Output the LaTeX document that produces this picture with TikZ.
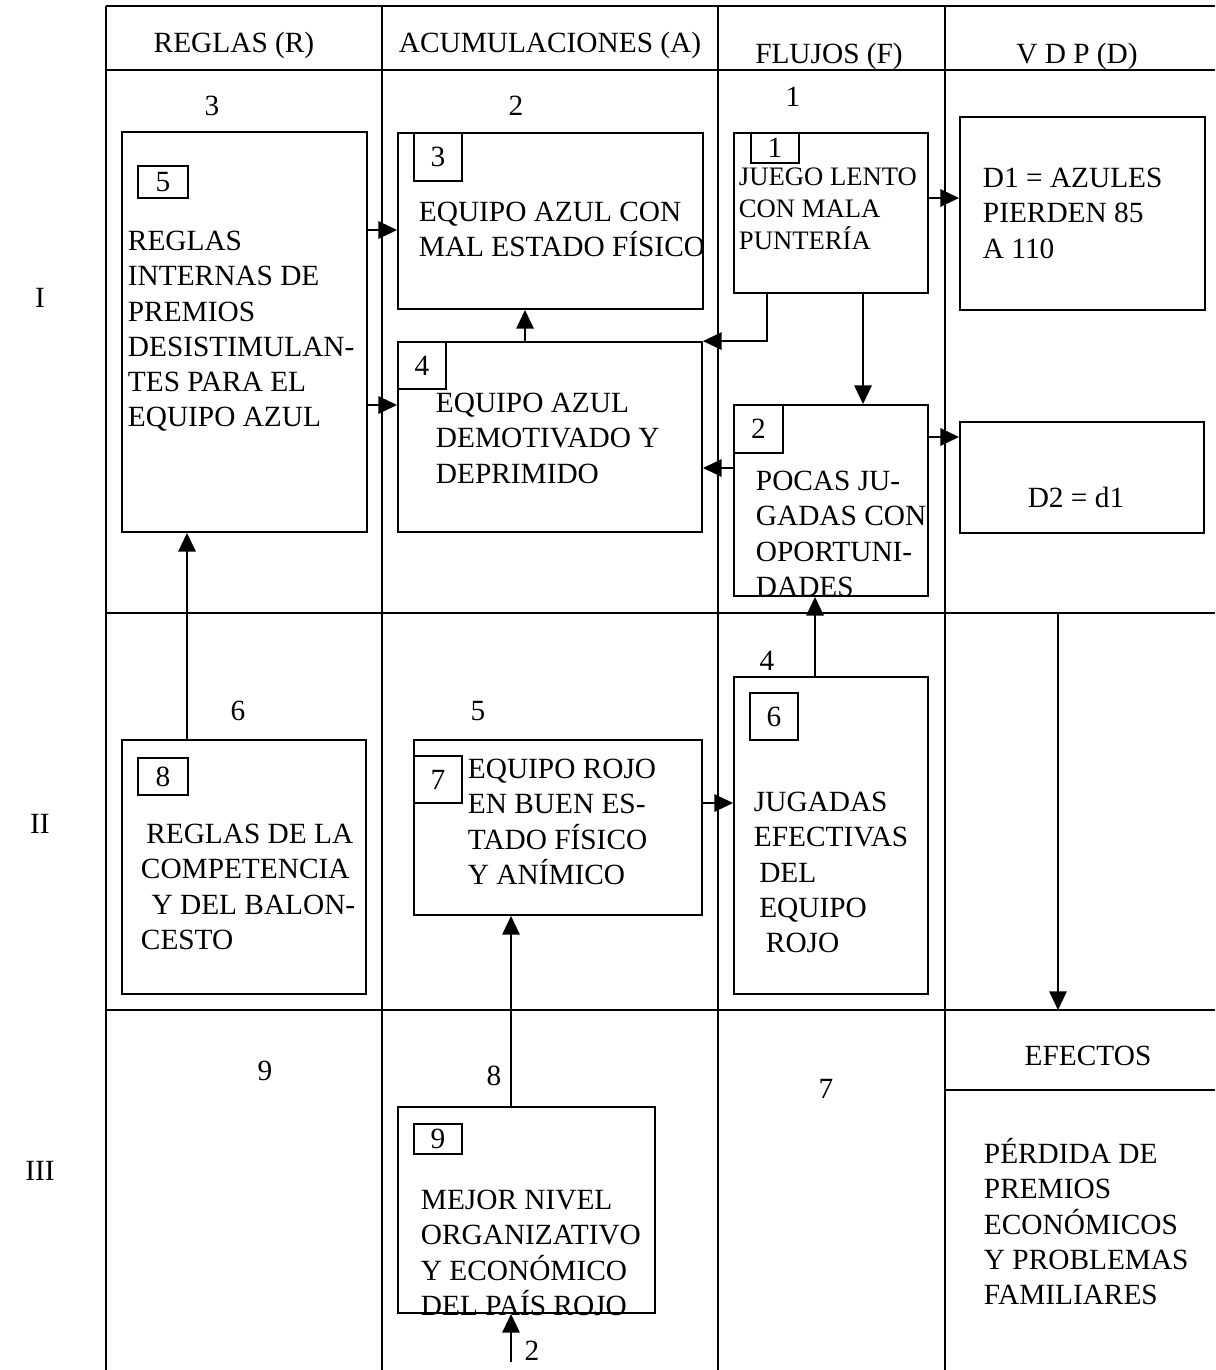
\documentclass[tikz,border=0pt]{standalone}
\usepackage{fontspec}
\setmainfont{Liberation Serif}
\usetikzlibrary{arrows.meta,fit}
\newcommand{\bxstrut}{\rule{0pt}{20pt}}
\newcommand{\numtxt}[1]{\raisebox{-0.68em}{#1}}

\begin{document}
\begin{tikzpicture}[x=0.75pt,y=-0.75pt,line width=1.4pt,
    box/.style={draw,inner sep=0pt},
    numbox/.style={draw,inner sep=0pt,font=\fontsize{22}{26}\selectfont},
    txt/.style={font=\fontsize{22}{26.4}\selectfont,align=left,anchor=north west,inner sep=0pt},
    lbl/.style={font=\fontsize{22}{26.4}\selectfont,anchor=base,inner sep=0pt},
    arr/.style={-{Triangle[length=14pt,width=13pt]}}]
    \useasboundingbox (0,0) rectangle (1215,1370);

    % grid
    \draw (106,6) -- (1215,6);
    \draw (106,70) -- (1215,70);
    \draw (106,613) -- (1215,613);
    \draw (106,1010) -- (1215,1010);
    \draw (945,1090) -- (1215,1090);
    \draw (106,6) -- (106,1370);
    \draw (382,6) -- (382,1370);
    \draw (718,6) -- (718,1370);
    \draw (945,6) -- (945,1370);

    \node[lbl] (hR) at (234,53) {REGLAS (R)};
    \node[lbl] (hA) at (550,53) {ACUMULACIONES (A)};
    \node[lbl] (hF) at (829,64) {FLUJOS (F)};
    \node[lbl] (hD) at (1077,64) {V D P (D)};

    \node[lbl] (rI) at (40,307) {I};
    \node[lbl] (rII) at (40,833) {II};
    \node[lbl] (rIII) at (40,1180) {III};

    \node[lbl] (c3) at (212,115) {3};
    \node[lbl] (c2) at (516,115) {2};
    \node[lbl] (c1) at (793,107) {1};
    \node[lbl] (c6) at (238,720) {6};
    \node[lbl] (c5) at (478,720) {5};
    \node[lbl] (c4) at (767,670) {4};
    \node[lbl] (c9) at (265,1080) {9};
    \node[lbl] (c8) at (494,1085) {8};
    \node[lbl] (c7) at (826,1098) {7};
    \node[lbl] (c2b) at (532,1360) {2};

    % boxes
    \node[box,fit={(122,132) (367,532)}] (b5) {};
    \node[box,fit={(398,133) (703,309)}] (b3) {};
    \node[box,fit={(398,342) (702,532)}] (b4) {};
    \node[box,fit={(734,133) (928,293)}] (b1) {};
    \node[box,fit={(960,117) (1205,310)}] (d1) {};
    \node[box,fit={(734,405) (928,596)}] (b2) {};
    \node[box,fit={(960,422) (1204,533)}] (d2) {};
    \node[box,fit={(122,740) (366,994)}] (b8) {};
    \node[box,fit={(414,740) (702,915)}] (b7) {};
    \node[box,fit={(734,677) (928,994)}] (b6) {};
    \node[box,fit={(398,1107) (655,1313)}] (b9) {};

    \node[numbox,fit={(138,166) (188,198)}] (n5) {\numtxt{5}};
    \node[numbox,fit={(414,133) (462,181)}] (n3) {\numtxt{3}};
    \node[numbox,fit={(398,342) (446,389)}] (n4) {\numtxt{4}};
    \node[numbox,fit={(751,133) (799,163)}] (n1) {\numtxt{1}};
    \node[numbox,fit={(734,405) (783,453)}] (n2) {\numtxt{2}};
    \node[numbox,fit={(138,758) (188,795)}] (n8) {\numtxt{8}};
    \node[numbox,fit={(414,756) (462,803)}] (n7) {\numtxt{7}};
    \node[numbox,fit={(750,693) (798,740)}] (n6) {\numtxt{6}};
    \node[numbox,fit={(414,1124) (462,1154)}] (n9) {\numtxt{9}};

    % texts
    \node[txt] (t5) at (127,223) {\bxstrut REGLAS\\INTERNAS DE\\PREMIOS\\DESISTIMULAN-\\TES PARA EL\\EQUIPO AZUL};
    \node[txt] (t3) at (418,194) {\bxstrut EQUIPO AZUL CON\\MAL ESTADO FÍSICO};
    \node[txt] (t4) at (435,385) {\bxstrut EQUIPO AZUL\\DEMOTIVADO Y\\DEPRIMIDO};
    \node[txt,font=\fontsize{20}{24}\selectfont] (t1) at (738,158) {\bxstrut JUEGO LENTO\\CON MALA\\PUNTERÍA};
    \node[txt] (td1) at (982,160) {\bxstrut D1 = AZULES\\PIERDEN 85\\A 110};
    \node[txt] (t2) at (755,463) {\bxstrut POCAS JU-\\GADAS CON\\OPORTUNI-\\DADES};
    \node[lbl] (td2) at (1076,507) {D2 = d1};
    \node[txt] (t8) at (140,816) {\bxstrut\hspace*{4pt}REGLAS DE LA\\COMPETENCIA\\\hspace*{8pt}Y DEL BALON-\\CESTO};
    \node[txt] (t7) at (467,751) {\bxstrut EQUIPO ROJO\\EN BUEN ES-\\TADO FÍSICO\\Y ANÍMICO};
    \node[txt] (t6) at (753,784) {\bxstrut JUGADAS\\EFECTIVAS\\\hspace*{4pt}DEL\\\hspace*{4pt}EQUIPO\\\hspace*{9pt}ROJO};
    \node[txt] (t9) at (420,1182) {\bxstrut MEJOR NIVEL\\ORGANIZATIVO\\Y ECONÓMICO\\DEL PAÍS ROJO};
    \node[lbl] (tef) at (1088,1065) {EFECTOS};
    \node[txt] (tpe) at (983,1136) {\bxstrut PÉRDIDA DE\\PREMIOS\\ECONÓMICOS\\Y PROBLEMAS\\FAMILIARES};

    % connectors
    \coordinate (src) at (511,1362);
    \coordinate (efa) at (1058,613);
    \coordinate (efb) at (1058,1010);
    \draw[arr] (b5.east |- 0,230) -- (b3.west |- 0,230);
    \draw[arr] (b5.east |- 0,405) -- (b4.west |- 0,405);
    \draw[arr] (b4.north -| 525,0) -- (b3.south -| 525,0);
    \draw[arr] (b1.south -| 767,0) |- (b4.north east);
    \draw[arr] (b1.south -| 863,0) -- (b2.north -| 863,0);
    \draw[arr] (b1.east |- 0,198) -- (d1.west |- 0,198);
    \draw[arr] (b2.east |- 0,437) -- (d2.west |- 0,437);
    \draw[arr] (b2.west |- 0,468) -- (b4.east |- 0,468);
    \draw[arr] (b6.north -| 815,0) -- (b2.south -| 815,0);
    \draw[arr] (b7.east |- 0,803) -- (b6.west |- 0,803);
    \draw[arr] (b8.north -| 187,0) -- (b5.south -| 187,0);
    \draw[arr] (b9.north -| 511,0) -- (b7.south -| 511,0);
    \draw[arr] (src) -- (src |- b9.south);
    \draw[arr] (efa) -- (efb);
\end{tikzpicture}
\end{document}
